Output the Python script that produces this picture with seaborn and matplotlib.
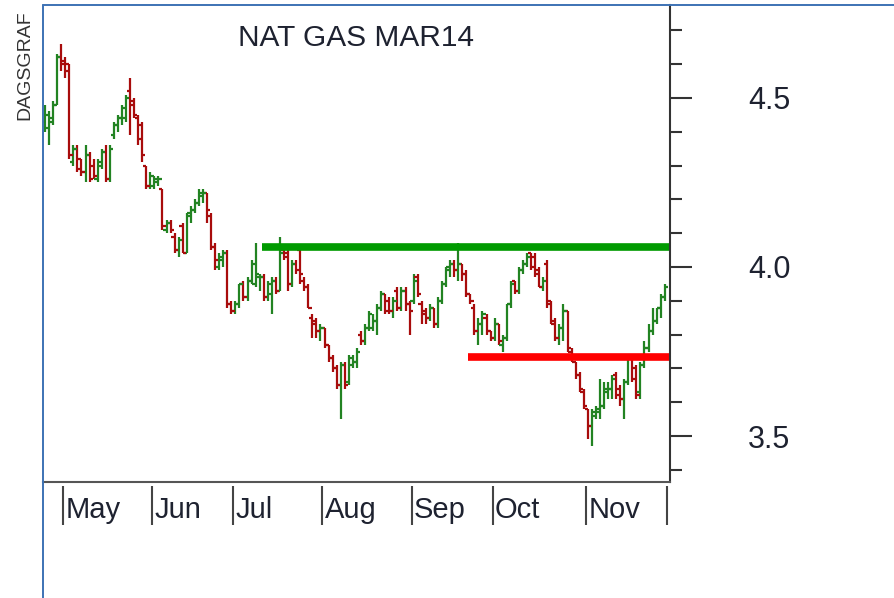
import matplotlib
matplotlib.use("Agg")

import matplotlib.pyplot as plt
import numpy as np
import pandas as pd
import seaborn as sns
from matplotlib.lines import Line2D
from matplotlib.ticker import MultipleLocator


TITLE = "NAT GAS MAR14"
SOURCE = "DAGSGRAF"

# daily OHLC, late April to end of November (one entry per trading day)
OPEN = [4.43, 4.41, 4.44, 4.48, 4.62, 4.61, 4.60, 4.31, 4.35, 4.32,
        4.28, 4.33, 4.30, 4.26, 4.30, 4.34, 4.26, 4.39, 4.42, 4.44,
        4.44, 4.52, 4.49, 4.44, 4.42, 4.30, 4.24, 4.24, 4.25, 4.23,
        4.11, 4.13, 4.09, 4.05, 4.12, 4.04, 4.15, 4.17, 4.19, 4.21,
        4.22, 4.15, 4.06, 4.00, 4.02, 4.04, 3.89, 3.87, 3.89, 3.95,
        3.91, 3.96, 3.95, 3.97, 3.97, 3.91, 3.92, 3.96, 3.93, 4.05,
        4.04, 3.95, 4.01, 4.05, 3.96, 3.94, 3.85, 3.84, 3.81, 3.82,
        3.77, 3.73, 3.70, 3.65, 3.71, 3.66, 3.71, 3.72, 3.80, 3.78,
        3.82, 3.82, 3.84, 3.88, 3.92, 3.90, 3.87, 3.93, 3.88, 3.93,
        3.89, 3.90, 3.97, 3.89, 3.87, 3.85, 3.88, 3.83, 3.90, 3.95,
        3.99, 4.01, 3.99, 4.01, 3.98, 3.92, 3.88, 3.81, 3.83, 3.85,
        3.81, 3.79, 3.83, 3.77, 3.79, 3.89, 3.96, 3.93, 3.99, 4.01,
        4.04, 4.03, 3.99, 3.94, 4.01, 3.89, 3.84, 3.79, 3.82, 3.87,
        3.75, 3.72, 3.68, 3.63, 3.58, 3.53, 3.56, 3.57, 3.59, 3.63,
        3.64, 3.68, 3.64, 3.61, 3.66, 3.73, 3.70, 3.63, 3.71, 3.76,
        3.81, 3.84, 3.88, 3.91]
HIGH = [4.48, 4.46, 4.49, 4.63, 4.66, 4.62, 4.60, 4.36, 4.36, 4.32,
        4.36, 4.34, 4.32, 4.32, 4.35, 4.36, 4.36, 4.43, 4.45, 4.48,
        4.51, 4.56, 4.50, 4.45, 4.43, 4.30, 4.28, 4.27, 4.27, 4.23,
        4.14, 4.14, 4.10, 4.09, 4.13, 4.16, 4.18, 4.20, 4.23, 4.23,
        4.22, 4.16, 4.07, 4.04, 4.05, 4.05, 3.90, 3.90, 3.95, 3.96,
        3.97, 4.02, 4.07, 3.98, 3.98, 3.96, 3.97, 3.97, 4.09, 4.05,
        4.05, 4.02, 4.02, 4.06, 3.97, 3.95, 3.86, 3.85, 3.83, 3.82,
        3.77, 3.74, 3.71, 3.72, 3.72, 3.74, 3.74, 3.76, 3.81, 3.83,
        3.87, 3.86, 3.89, 3.93, 3.92, 3.91, 3.91, 3.94, 3.94, 3.94,
        3.90, 3.98, 3.98, 3.90, 3.88, 3.89, 3.88, 3.91, 3.96, 4.00,
        4.02, 4.02, 4.07, 4.01, 3.99, 3.92, 3.89, 3.85, 3.87, 3.86,
        3.81, 3.85, 3.83, 3.80, 3.89, 3.96, 3.96, 4.00, 4.02, 4.04,
        4.04, 4.04, 4.00, 3.97, 4.02, 3.90, 3.85, 3.83, 3.89, 3.87,
        3.76, 3.72, 3.69, 3.64, 3.58, 3.58, 3.59, 3.67, 3.66, 3.66,
        3.68, 3.69, 3.65, 3.67, 3.74, 3.74, 3.71, 3.72, 3.78, 3.83,
        3.88, 3.88, 3.92, 3.95]
LOW = [4.40, 4.36, 4.42, 4.48, 4.58, 4.56, 4.32, 4.30, 4.28, 4.27,
       4.25, 4.25, 4.26, 4.25, 4.29, 4.25, 4.25, 4.38, 4.40, 4.42,
       4.43, 4.39, 4.44, 4.36, 4.31, 4.23, 4.23, 4.23, 4.24, 4.11,
       4.10, 4.10, 4.04, 4.03, 4.04, 4.04, 4.13, 4.16, 4.18, 4.19,
       4.13, 4.05, 3.99, 3.99, 4.00, 3.88, 3.86, 3.86, 3.88, 3.90,
       3.90, 3.95, 3.94, 3.93, 3.90, 3.90, 3.86, 3.92, 3.93, 4.02,
       3.93, 3.94, 3.98, 3.95, 3.93, 3.88, 3.79, 3.79, 3.78, 3.76,
       3.72, 3.69, 3.64, 3.55, 3.64, 3.65, 3.70, 3.70, 3.77, 3.77,
       3.81, 3.81, 3.80, 3.87, 3.86, 3.86, 3.85, 3.87, 3.87, 3.87,
       3.80, 3.89, 3.91, 3.83, 3.83, 3.84, 3.82, 3.82, 3.89, 3.94,
       3.97, 3.97, 3.96, 3.96, 3.91, 3.89, 3.80, 3.77, 3.80, 3.80,
       3.78, 3.78, 3.77, 3.75, 3.78, 3.88, 3.92, 3.92, 3.98, 4.00,
       3.99, 3.97, 3.94, 3.93, 3.88, 3.83, 3.78, 3.77, 3.78, 3.75,
       3.72, 3.67, 3.63, 3.58, 3.49, 3.47, 3.55, 3.55, 3.58, 3.61,
       3.61, 3.61, 3.59, 3.55, 3.65, 3.66, 3.61, 3.61, 3.70, 3.75,
       3.80, 3.83, 3.85, 3.90]
CLOSE = [4.45, 4.43, 4.48, 4.62, 4.60, 4.58, 4.33, 4.35, 4.29, 4.28,
         4.33, 4.26, 4.27, 4.31, 4.34, 4.26, 4.35, 4.42, 4.44, 4.47,
         4.50, 4.48, 4.45, 4.38, 4.33, 4.24, 4.27, 4.26, 4.26, 4.12,
         4.13, 4.11, 4.05, 4.08, 4.04, 4.16, 4.17, 4.19, 4.22, 4.22,
         4.17, 4.06, 4.02, 4.03, 4.04, 3.89, 3.87, 3.89, 3.95, 3.91,
         3.96, 4.01, 3.98, 3.97, 3.91, 3.95, 3.96, 3.93, 4.04, 4.03,
         3.95, 4.01, 3.99, 3.98, 3.94, 3.88, 3.83, 3.81, 3.82, 3.77,
         3.73, 3.70, 3.65, 3.71, 3.65, 3.73, 3.72, 3.75, 3.78, 3.82,
         3.86, 3.84, 3.88, 3.92, 3.87, 3.87, 3.90, 3.88, 3.93, 3.89,
         3.87, 3.96, 3.92, 3.86, 3.85, 3.88, 3.83, 3.90, 3.95, 4.00,
         4.01, 3.99, 4.01, 3.98, 3.92, 3.90, 3.81, 3.83, 3.86, 3.81,
         3.79, 3.83, 3.78, 3.79, 3.89, 3.95, 3.93, 3.99, 4.01, 4.03,
         4.00, 3.98, 3.94, 3.96, 3.90, 3.83, 3.79, 3.82, 3.87, 3.76,
         3.73, 3.68, 3.64, 3.59, 3.53, 3.57, 3.58, 3.59, 3.64, 3.64,
         3.67, 3.62, 3.61, 3.66, 3.73, 3.67, 3.62, 3.71, 3.76, 3.81,
         3.84, 3.88, 3.91, 3.94]

MONTHS = ["May", "Jun", "Jul", "Aug", "Sep", "Oct", "Nov"]
MONTH_EDGES = [5, 27, 47, 69, 91, 111, 134, 154]  # trading-day index of month starts

RESIST_LEVEL = 4.06
RESIST_FROM = 54
SUPPORT_LEVEL = 3.735
SUPPORT_FROM = 105

UP = "#228322"
DOWN = "#a80c0c"
FRAME = "#3d72b4"
INK = "#1e2230"

sns.set_theme(style="white")
plt.rcParams["font.family"] = ["Liberation Sans", "DejaVu Sans"]

df = pd.DataFrame({"open": OPEN, "high": HIGH, "low": LOW, "close": CLOSE})
df["x"] = np.arange(len(df)) + 0.5
df["color"] = np.where(df["close"] >= df["open"], UP, DOWN)

W, H = 895, 598
fig = plt.figure(figsize=(W / 100, H / 100), dpi=100)
ax = fig.add_axes([43 / W, (H - 482) / H, 627 / W, 477 / H])

# OHLC bars
ax.vlines(df["x"], df["low"], df["high"], colors=df["color"], lw=1.6)
ax.hlines(df["open"], df["x"] - 0.8, df["x"], colors=df["color"], lw=1.6)
ax.hlines(df["close"], df["x"], df["x"] + 0.8, colors=df["color"], lw=1.6)

x_end = 154.8
levels = pd.DataFrame({
    "x": [RESIST_FROM, x_end, SUPPORT_FROM, x_end],
    "y": [RESIST_LEVEL, RESIST_LEVEL, SUPPORT_LEVEL, SUPPORT_LEVEL],
    "kind": ["resist", "resist", "support", "support"],
})
sns.lineplot(data=levels, x="x", y="y", hue="kind",
             palette={"resist": "#009a00", "support": "#ff0000"},
             lw=5.5, legend=False, ax=ax, solid_capstyle="butt")

ax.set_xlim(0, x_end)
ax.set_ylim(3.364, 4.775)
ax.set_xlabel("")
ax.set_ylabel("")

ax.yaxis.tick_right()
ax.set_yticks([3.5, 4.0, 4.5])
ax.yaxis.set_major_formatter(plt.FormatStrFormatter("%.1f"))
ax.yaxis.set_minor_locator(MultipleLocator(0.1))
ax.tick_params(axis="y", which="major", right=True, length=16, width=1.5,
               color="#333333", pad=40, labelsize=22, labelcolor=INK)
ax.tick_params(axis="y", which="minor", right=True, length=8.5, width=1.5,
               color="#333333")
ax.tick_params(axis="x", bottom=False, labelbottom=False)

ax.spines["left"].set_visible(False)
ax.spines["top"].set_visible(False)
ax.spines["right"].set_color("#333333")
ax.spines["right"].set_linewidth(1.5)
ax.spines["bottom"].set_color("#555555")
ax.spines["bottom"].set_linewidth(1.5)

# month strip below the plot
trans = ax.get_xaxis_transform()
ax.vlines(MONTH_EDGES, -0.09, -0.008, transform=trans, clip_on=False,
          colors="#444444", lw=1.5)
for name, edge in zip(MONTHS, MONTH_EDGES[:-1]):
    ax.text(edge + 0.6, -0.058, name, transform=trans, ha="left", va="center",
            fontsize=21, color=INK)

ax.text(0.5, 0.93, TITLE, transform=ax.transAxes, ha="center", va="center",
        fontsize=21.5, color=INK)

fig.text(25 / W, 1 - 65 / H, SOURCE, rotation=90, ha="center", va="center",
         fontsize=14, color="#333333")

# blue frame on left and top
fig.add_artist(Line2D([43 / W, 43 / W], [0, 1 - 5 / H], color=FRAME, lw=1.4))
fig.add_artist(Line2D([43 / W, 1], [1 - 5 / H, 1 - 5 / H], color=FRAME, lw=1.4))

fig.savefig("out.png", dpi=100)
